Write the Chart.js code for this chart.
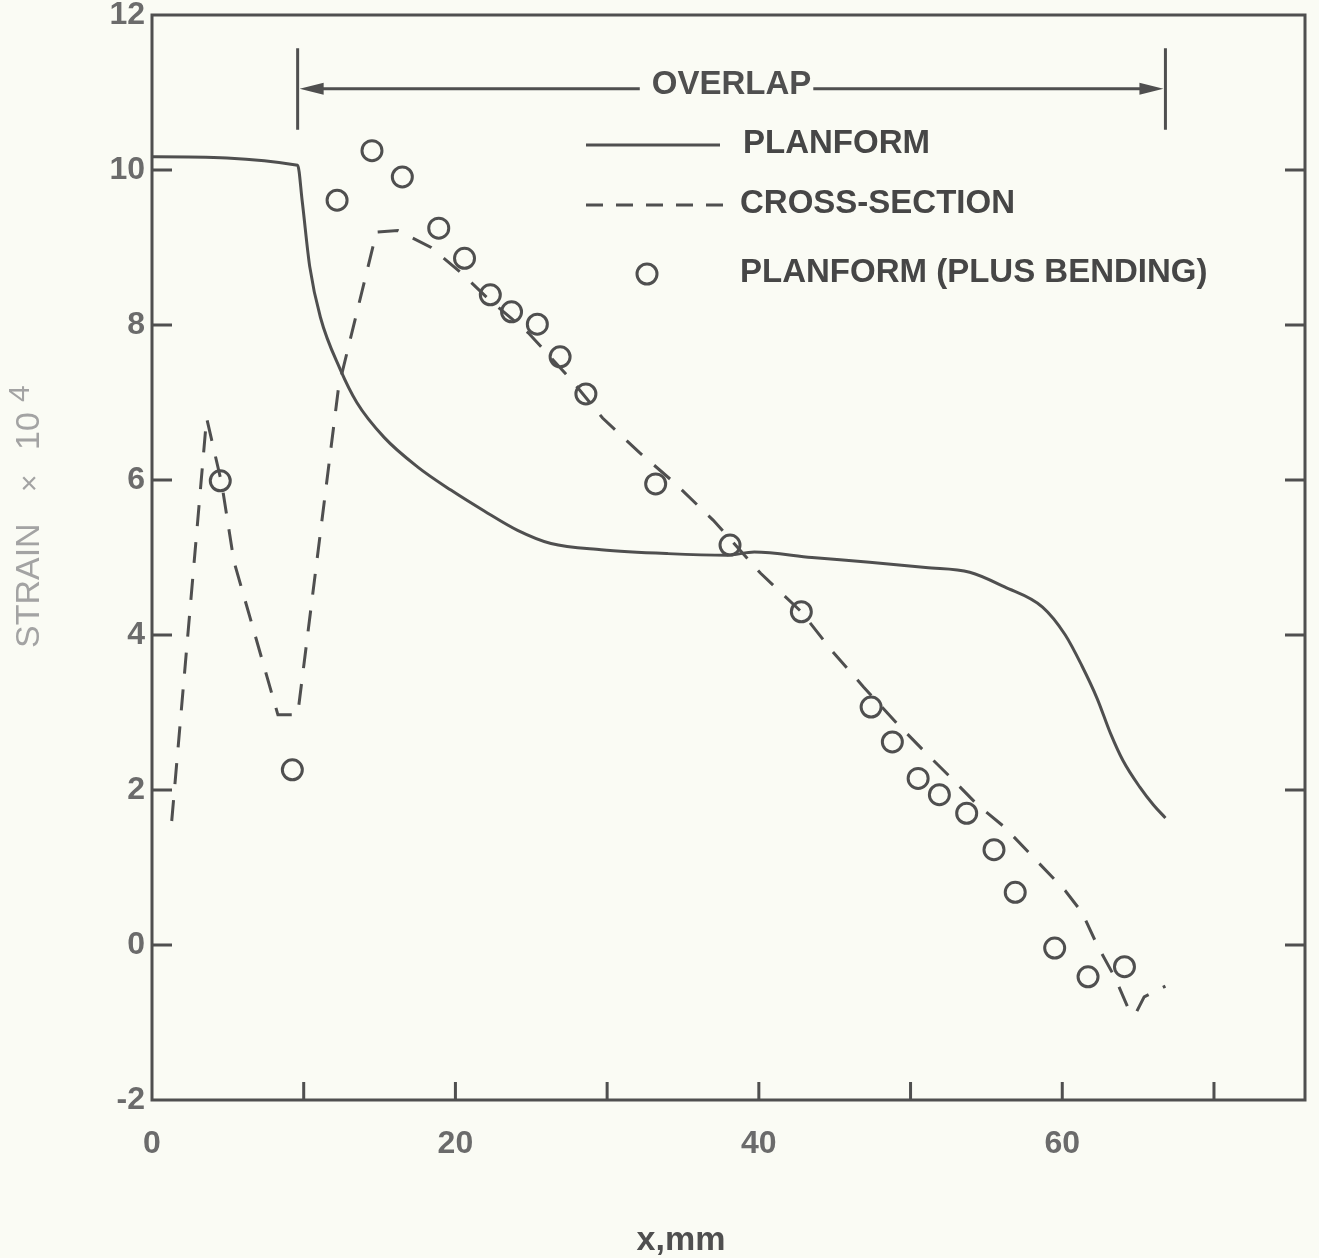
<!DOCTYPE html>
<html>
<head>
<meta charset="utf-8">
<script src="https://cdn.jsdelivr.net/npm/chart.js@4.4.1/dist/chart.umd.min.js"></script>
<style>
  html, body { margin: 0; padding: 0; background: #fafbf4; }
  #wrap { width: 1319px; height: 1258px; }
</style>
</head>
<body>
<div id="wrap"><canvas id="strain-chart" width="1319" height="1258"></canvas></div>
<script>
// planform (solid line)
const planformX = [0, 9.6, 9.9, 10.4, 11.1, 12.4, 13.5, 15.3, 17.5, 19.7, 21.9, 24.1, 26.3, 29.6, 34, 37.9, 39.7,
  43.5, 47.3, 51, 53.9, 56.2, 58.7, 60.2, 61.3, 62.3, 63.2, 64.0, 65.1, 66, 66.8];
const planformY = [10.17, 10.06, 9.6, 8.75, 8.1, 7.43, 7.0, 6.55, 6.17, 5.87, 5.6, 5.35, 5.18, 5.1, 5.05, 5.03, 5.07,
  5.0, 4.94, 4.87, 4.81, 4.62, 4.36, 4.0, 3.6, 3.18, 2.72, 2.38, 2.04, 1.81, 1.64];

// cross-section (dashed line)
const crossX = [1.3, 3.6, 4.6, 5.4, 8.3, 9.6, 12.3, 14.8, 16.2, 18.4, 20.4, 22.1, 24.8, 27.6, 29.7, 32.1, 34.4,
  37, 40.1, 42.8, 44.8, 46.9, 49.1, 50.8, 52.5, 54.4, 56.2, 58, 60.2, 61.3, 62.3, 63.5, 64.4, 64.8, 65.4, 66.8];
const crossY = [1.6, 6.8, 5.95, 4.95, 2.97, 2.97, 7.2, 9.2, 9.22, 9.0, 8.67, 8.35, 7.9, 7.3, 6.8, 6.36, 5.97,
  5.48, 4.8, 4.3, 3.8, 3.33, 2.86, 2.52, 2.19, 1.81, 1.52, 1.15, 0.7, 0.42, 0.0, -0.43, -0.84, -0.9, -0.67, -0.53];

// planform plus bending (open circles)
const bendingX = [4.5, 9.25, 12.2, 14.5, 16.5, 18.9, 20.6, 22.3, 23.7, 25.4, 26.9, 28.6, 33.2, 38.1, 42.8,
  47.4, 48.8, 50.5, 51.9, 53.7, 55.5, 56.9, 59.5, 61.7, 64.1];
const bendingY = [5.99, 2.26, 9.61, 10.25, 9.91, 9.25, 8.86, 8.39, 8.17, 8.01, 7.59, 7.11, 5.95, 5.16, 4.3,
  3.07, 2.62, 2.15, 1.94, 1.70, 1.23, 0.68, -0.04, -0.41, -0.28];

const seriesLabels = ['PLANFORM', 'CROSS-SECTION', 'PLANFORM (PLUS BENDING)'];
const overlapRange = [9.6, 66.8];   // x span of the overlap bracket
const overlapLevel = 11.05;         // strain level of the arrow
const overlapBar = [10.52, 11.57];  // end bars
const overlapTextAt = 38.2;

const INK = '#4f4f4f';
const FONT = '"Liberation Sans", Arial, sans-serif';

const pairs = (xs, ys) => xs.map((x, i) => ({ x, y: ys[i] }));

const decorations = {
  id: 'decorations',
  beforeDatasetsDraw(chart) {
    const { ctx, chartArea: a, scales: { x, y } } = chart;
    ctx.save();
    ctx.strokeStyle = INK;
    ctx.lineWidth = 3;
    ctx.strokeRect(a.left, a.top, a.right - a.left, a.bottom - a.top);
    ctx.beginPath();
    y.ticks.forEach(t => {
      if (t.value <= y.min || t.value >= y.max) return;
      const py = y.getPixelForValue(t.value);
      ctx.moveTo(a.left, py); ctx.lineTo(a.left + 20, py);
      ctx.moveTo(a.right, py); ctx.lineTo(a.right - 20, py);
    });
    x.ticks.forEach(t => {
      if (t.value <= x.min || t.value >= x.max || t.value % 10) return;
      const px = x.getPixelForValue(t.value);
      ctx.moveTo(px, a.bottom); ctx.lineTo(px, a.bottom - 18);
    });
    ctx.stroke();
    ctx.restore();
  },
  afterDatasetsDraw(chart) {
    const { ctx, scales: { x, y } } = chart;
    ctx.save();
    ctx.strokeStyle = INK;
    ctx.fillStyle = INK;
    ctx.lineWidth = 3;

    // overlap bracket
    const x0 = x.getPixelForValue(overlapRange[0]);
    const x1 = x.getPixelForValue(overlapRange[1]);
    const ly = y.getPixelForValue(overlapLevel);
    const b0 = y.getPixelForValue(overlapBar[0]);
    const b1 = y.getPixelForValue(overlapBar[1]);
    ctx.font = 'bold 33px ' + FONT;
    const tw = ctx.measureText('OVERLAP').width;
    const tc = x.getPixelForValue(overlapTextAt);
    ctx.beginPath();
    ctx.moveTo(x0, b0); ctx.lineTo(x0, b1);
    ctx.moveTo(x1, b0); ctx.lineTo(x1, b1);
    ctx.moveTo(x0 + 20, ly); ctx.lineTo(tc - tw / 2 - 12, ly);
    ctx.moveTo(tc + tw / 2 + 2, ly); ctx.lineTo(x1 - 20, ly);
    ctx.stroke();
    ctx.beginPath();
    ctx.moveTo(x0 + 2, ly); ctx.lineTo(x0 + 26, ly - 6); ctx.lineTo(x0 + 26, ly + 6); ctx.closePath();
    ctx.moveTo(x1 - 2, ly); ctx.lineTo(x1 - 26, ly - 6); ctx.lineTo(x1 - 26, ly + 6); ctx.closePath();
    ctx.fill();
    ctx.textAlign = 'center';
    ctx.textBaseline = 'alphabetic';
    ctx.fillText('OVERLAP', tc, ly + 5);

    // legend
    ctx.textAlign = 'left';
    ctx.fillStyle = '#464646';
    ctx.beginPath();
    ctx.moveTo(586, 145); ctx.lineTo(720, 145);
    ctx.stroke();
    ctx.fillText(seriesLabels[0], 743, 153);
    ctx.setLineDash([17, 13]);
    ctx.beginPath();
    ctx.moveTo(586, 205); ctx.lineTo(728, 205);
    ctx.stroke();
    ctx.setLineDash([]);
    ctx.fillText(seriesLabels[1], 740, 213);
    ctx.beginPath();
    ctx.arc(647, 274, 10, 0, Math.PI * 2);
    ctx.stroke();
    ctx.fillText(seriesLabels[2], 740, 282);

    // axis titles
    ctx.fillStyle = INK;
    ctx.font = 'bold 34px ' + FONT;
    ctx.textAlign = 'center';
    ctx.fillText('x,mm', 681, 1250);

    ctx.translate(30, 648);
    ctx.rotate(-Math.PI / 2);
    ctx.fillStyle = '#a3a3a3';
    ctx.textAlign = 'left';
    ctx.textBaseline = 'middle';
    ctx.font = '34px ' + FONT;
    ctx.fillText('STRAIN', 0, 0);
    ctx.font = '30px ' + FONT;
    ctx.fillText('×', 156, 1);
    ctx.font = '34px ' + FONT;
    ctx.fillText('10', 198, 0);
    ctx.font = '30px ' + FONT;
    ctx.fillText('4', 246, -9);
    ctx.restore();
  }
};

new Chart(document.getElementById('strain-chart'), {
  type: 'scatter',
  data: {
    datasets: [
      {
        label: seriesLabels[0],
        data: pairs(planformX, planformY),
        showLine: true,
        borderColor: INK,
        borderWidth: 3,
        pointRadius: 0,
        cubicInterpolationMode: 'monotone'
      },
      {
        label: seriesLabels[1],
        data: pairs(crossX, crossY),
        showLine: true,
        borderColor: INK,
        borderWidth: 3,
        borderDash: [21, 16],
        pointRadius: 0,
        tension: 0
      },
      {
        label: seriesLabels[2],
        data: pairs(bendingX, bendingY),
        showLine: false,
        pointStyle: 'circle',
        pointRadius: 10,
        pointBorderWidth: 3,
        pointBorderColor: INK,
        pointBackgroundColor: 'rgba(0,0,0,0)'
      }
    ]
  },
  options: {
    responsive: false,
    animation: false,
    devicePixelRatio: 1,
    layout: { padding: { left: 0, top: 15, right: 14, bottom: 0 } },
    plugins: { legend: { display: false }, tooltip: { enabled: false } },
    scales: {
      x: {
        type: 'linear',
        min: 0,
        max: 76,
        afterFit: s => { s.height = 158; s.paddingLeft = 0; s.paddingRight = 0; },
        grid: { display: false, drawTicks: false },
        border: { display: false },
        ticks: {
          stepSize: 10,
          autoSkip: false,
          maxRotation: 0,
          padding: 25,
          color: '#6b6b6b',
          font: { family: FONT, size: 32, weight: 'bold' },
          callback: v => (v % 20 === 0 ? String(v) : '')
        }
      },
      y: {
        min: -2,
        max: 12,
        afterFit: s => { s.width = 152; s.paddingTop = 0; s.paddingBottom = 0; },
        grid: { display: false, drawTicks: false },
        border: { display: false },
        ticks: {
          stepSize: 2,
          padding: 7,
          color: '#6b6b6b',
          font: { family: FONT, size: 32, weight: 'bold' }
        }
      }
    }
  },
  plugins: [decorations]
});
</script>
</body>
</html>
